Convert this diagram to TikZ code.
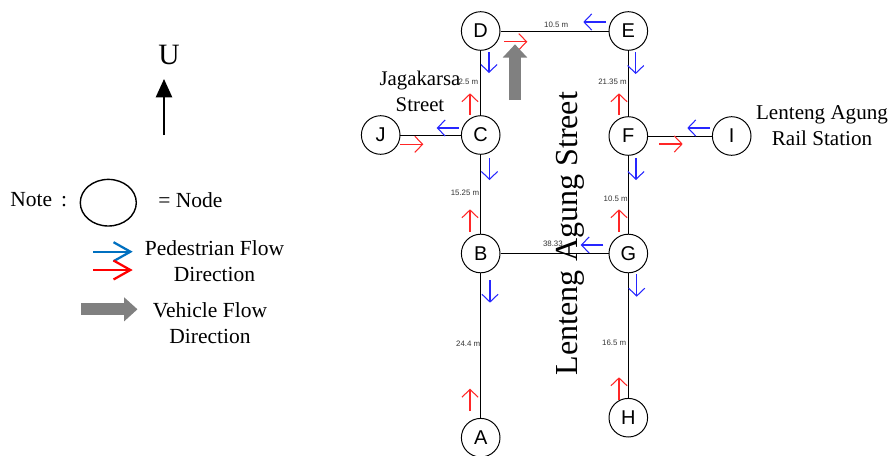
\documentclass[tikz,border=0pt]{standalone}
\usepackage{fontspec}
\setmainfont{Liberation Serif}
\setsansfont{Liberation Sans}
\usetikzlibrary{arrows.meta,shapes.geometric}
\tikzset{
    place/.style={draw,circle,line width=0.7pt,minimum size=0.965cm,inner sep=0pt,font=\sffamily\fontsize{14.2}{14.2}\selectfont},
    road/.style={line width=0.7pt},
    dist/.style={inner sep=0pt,text=black!80,font=\sffamily\fontsize{5.6}{5.6}\selectfont},
    caption/.style={inner sep=0pt,align=center,font=\fontsize{15.3}{18.5}\selectfont},
    blueflow/.style={blue!85!white,line width=0.75pt,-{Straight Barb[length=5.5pt,width=11.5pt]}},
    redflow/.style={red!85!white,line width=0.75pt,-{Straight Barb[length=5.5pt,width=11.5pt]}},
    vehicle/.style={black!50,line width=8.6pt,-{Triangle[length=9.5pt,width=17pt]}},
    sample/.style={line width=1.6pt,-{Straight Barb[length=12pt,width=13.5pt]}}
}
\definecolor{sampleblue}{HTML}{0070C0}
\begin{document}
\begin{tikzpicture}[x=0.025cm,y=-0.025cm]
    \useasboundingbox (0,0) rectangle (890,455);
    % intersections
    \foreach \name/\x/\y in {A/480.7/437.7,B/480.7/253.5,C/480.7/135,D/480.7/31,
    E/628.3/31,F/628.3/136,G/628.3/253.5,H/628.3/417.7,I/731.7/136,J/380.7/135}{
        \node[place](\name) at (\x,\y) {\name};
    }
    \draw[road](D)--(E);
    \draw[road](D)--(C);
    \draw[road](C)--(B);
    \draw[road](B)--(A);
    \draw[road](J)--(C);
    \draw[road](B)--(G);
    \draw[road](E)--(F);
    \draw[road](F)--(G);
    \draw[road](G)--(H);
    \draw[road](F)--(I);
    % distances
    \node[dist,anchor=east](de) at (568.5,24.5) {10.5 m};
    \node[dist,anchor=east](dc) at (478.5,82) {2.5 m};
    \node[dist,anchor=east](ef) at (627,82) {21.35 m};
    \node[dist,anchor=east](cb) at (479.5,193) {15.25 m};
    \node[dist,anchor=east](fg) at (628,199) {10.5 m};
    \node[dist,anchor=east](bg) at (563,244) {38.33};
    \node[dist,anchor=east](ba) at (480.5,344) {24.4 m};
    \node[dist,anchor=east](gh) at (626.5,343) {16.5 m};
    % pedestrian flow
    \foreach \x/\y/\ex/\ey in {489/52/489/73,
    459/128/436.7/128,
    606/22/583.3/22,
    635.7/52/635.7/74,
    710/128/687.3/128,
    489.5/158/489.5/180,
    636/158/636/180,
    603.3/245/580.7/245,
    490/280/490/302.7,
    636.7/274/636.7/296.7}{
        \coordinate (tail) at (\x,\y);
        \coordinate (head) at (\ex,\ey);
        \draw[blueflow](tail)--(head);
    }
    \foreach \x/\y/\ex/\ey in {504/41.7/527.3/41.7,
    470/115/470/93.3,
    400/144.3/423.3/144.3,
    619/115/619/93.3,
    659.3/144/682.7/144,
    470/232/470/209.3,
    619/232/619/209.3,
    470/411/470/388.7,
    619/400/619/377.3}{
        \coordinate (tail) at (\x,\y);
        \coordinate (head) at (\ex,\ey);
        \draw[redflow](tail)--(head);
    }
    % vehicle flow
    \coordinate (cartail) at (515,100);
    \coordinate (carhead) at (515,44.3);
    \draw[vehicle](cartail)--(carhead);
    % street names
    \node[caption,font=\fontsize{14.8}{18.5}\selectfont](jagakarsa) at (420,91) {Jagakarsa\\Street};
    \node[caption,font=\fontsize{15}{18.5}\selectfont](rail) at (822,125.5) {Lenteng Agung\\Rail Station};
    \node[inner sep=0pt,rotate=90,anchor=base,font=\fontsize{22.8}{24}\selectfont](lenteng) at (577,233.5) {Lenteng Agung Street};
    % north
    \node[inner sep=0pt,font=\fontsize{21}{21}\selectfont](north) at (169,55) {U};
    \coordinate (northtail) at (164,135);
    \coordinate (northhead) at (164,79);
    \draw[line width=1.3pt,-{Triangle[length=13pt,width=11.5pt]}](northtail)--(northhead);
    % legend
    \node[caption,anchor=west](note) at (10,200) {Note\, :};
    \node[draw,ellipse,line width=1pt,minimum width=1.4cm,minimum height=1.165cm,inner sep=0pt](sample) at (108.3,202.7) {};
    \node[caption,anchor=west](equals) at (158,200) {= Node};
    \coordinate (walka) at (93.3,251.7);
    \coordinate (walkb) at (132.7,251.7);
    \coordinate (walkc) at (93.3,270);
    \coordinate (walkd) at (132.7,270);
    \draw[sample,sampleblue](walka)--(walkb);
    \draw[sample,red](walkc)--(walkd);
    \node[caption](pedestrian) at (214.5,261) {Pedestrian Flow\\Direction};
    \coordinate (drivea) at (81,309.3);
    \coordinate (driveb) at (137.5,309.3);
    \draw[vehicle,line width=8.4pt,-{Triangle[length=9.5pt,width=16.5pt]}](drivea)--(driveb);
    \node[caption](vehicleflow) at (210,323) {Vehicle Flow\\Direction};
\end{tikzpicture}
\end{document}
